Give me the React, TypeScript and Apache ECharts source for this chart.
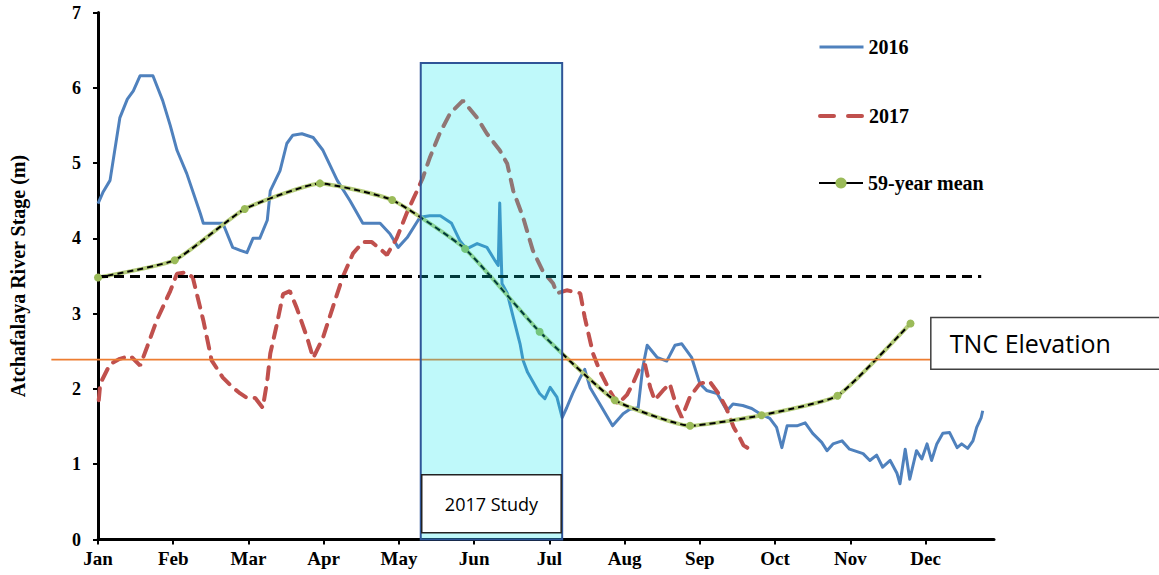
import { useEffect, useRef } from "react";
import * as echarts from "echarts";

// Month axis: x values are fractional months from 1 January (0 = Jan 1).
const MONTHS = ["Jan", "Feb", "Mar", "Apr", "May", "Jun", "Jul", "Aug", "Sep", "Oct", "Nov", "Dec"];
const Y_TICKS = [0, 1, 2, 3, 4, 5, 6, 7];

// Atchafalaya River stage (m), 2016
const STAGE_2016: [number, number][] = [
  [0, 4.46], [0.07, 4.62], [0.16, 4.77], [0.29, 5.6], [0.39, 5.85], [0.47, 5.96], [0.56, 6.16],
  [0.73, 6.16], [0.86, 5.83], [0.96, 5.5], [1.05, 5.17], [1.18, 4.86], [1.36, 4.33], [1.4, 4.2],
  [1.53, 4.2], [1.66, 4.2], [1.79, 3.88], [1.89, 3.84], [1.98, 3.81], [2.06, 4.0], [2.15, 4.0],
  [2.25, 4.24], [2.29, 4.63], [2.42, 4.9], [2.51, 5.26], [2.59, 5.37], [2.71, 5.39], [2.86, 5.34],
  [2.99, 5.17], [3.18, 4.77], [3.35, 4.5], [3.52, 4.2], [3.75, 4.2], [3.88, 4.06], [3.99, 3.88],
  [4.11, 4.01], [4.28, 4.28], [4.41, 4.3], [4.55, 4.3], [4.7, 4.2], [4.81, 3.97], [4.9, 3.86],
  [5.04, 3.93], [5.17, 3.88], [5.28, 3.7], [5.32, 3.64], [5.34, 4.47], [5.37, 3.4], [5.44, 3.27],
  [5.52, 2.95], [5.61, 2.6], [5.65, 2.38], [5.71, 2.22], [5.87, 1.94], [5.94, 1.87], [6.01, 2.02],
  [6.1, 1.89], [6.17, 1.62], [6.23, 1.75], [6.31, 1.94], [6.41, 2.15], [6.47, 2.26], [6.54, 2.02],
  [6.67, 1.8], [6.84, 1.51], [6.98, 1.67], [7.07, 1.73], [7.18, 1.75], [7.24, 2.28], [7.3, 2.58],
  [7.43, 2.42], [7.56, 2.37], [7.67, 2.58], [7.76, 2.6], [7.89, 2.42], [8.0, 2.07], [8.09, 1.98],
  [8.23, 1.94], [8.36, 1.71], [8.44, 1.8], [8.57, 1.78], [8.69, 1.74], [8.8, 1.67], [8.93, 1.61],
  [9.02, 1.49], [9.09, 1.22], [9.16, 1.51], [9.29, 1.51], [9.4, 1.55], [9.5, 1.41], [9.62, 1.29],
  [9.69, 1.18], [9.77, 1.27], [9.89, 1.31], [9.99, 1.2], [10.17, 1.14], [10.26, 1.05], [10.35, 1.12],
  [10.43, 0.96], [10.53, 1.05], [10.62, 0.88], [10.66, 0.74], [10.73, 1.2], [10.79, 0.8],
  [10.88, 1.18], [10.95, 1.07], [11.02, 1.27], [11.08, 1.05], [11.15, 1.27], [11.23, 1.41],
  [11.32, 1.42], [11.42, 1.22], [11.48, 1.27], [11.56, 1.21], [11.63, 1.31], [11.68, 1.49],
  [11.74, 1.62], [11.76, 1.71],
];

// Atchafalaya River stage (m), 2017
const STAGE_2017: [number, number][] = [
  [0.01, 1.85], [0.03, 2.07], [0.16, 2.33], [0.29, 2.4], [0.43, 2.44], [0.56, 2.31], [0.65, 2.55],
  [0.78, 2.91], [0.96, 3.3], [1.05, 3.53], [1.17, 3.55], [1.26, 3.48], [1.4, 2.91], [1.51, 2.38],
  [1.66, 2.15], [1.79, 2.02], [1.89, 1.94], [1.98, 1.88], [2.09, 1.88], [2.19, 1.75], [2.25, 2.11],
  [2.29, 2.47], [2.38, 2.87], [2.46, 3.26], [2.55, 3.3], [2.64, 3.08], [2.78, 2.68], [2.86, 2.41],
  [2.99, 2.68], [3.12, 3.08], [3.25, 3.48], [3.39, 3.8], [3.52, 3.95], [3.64, 3.95], [3.75, 3.86],
  [3.84, 3.78], [3.97, 4.0], [4.11, 4.35], [4.24, 4.63], [4.32, 4.81], [4.41, 5.07], [4.54, 5.39],
  [4.68, 5.66], [4.85, 5.83], [5.04, 5.6], [5.17, 5.39], [5.34, 5.17], [5.44, 4.99], [5.52, 4.63],
  [5.65, 4.28], [5.78, 3.84], [5.91, 3.57], [6.05, 3.4], [6.1, 3.27], [6.23, 3.31], [6.41, 3.27],
  [6.47, 2.95], [6.58, 2.47], [6.67, 2.24], [6.8, 1.98], [6.91, 1.8], [7.03, 1.92], [7.11, 2.07],
  [7.2, 2.28], [7.27, 2.33], [7.34, 2.02], [7.4, 1.85], [7.51, 1.98], [7.6, 2.07], [7.68, 1.8],
  [7.76, 1.62], [7.87, 1.9], [8.0, 2.07], [8.13, 2.1], [8.24, 1.95], [8.35, 1.75], [8.45, 1.49],
  [8.53, 1.35], [8.58, 1.25], [8.66, 1.2],
];

// 59-year mean monthly stage (m)
const MEAN_59YR: [number, number][] = [
  [0, 3.48], [1.02, 3.71], [1.95, 4.39], [2.95, 4.73], [3.91, 4.51], [4.88, 3.86],
  [5.87, 2.76], [6.87, 1.85], [7.87, 1.51], [8.82, 1.65], [9.83, 1.91], [10.8, 2.87],
];

// Reference levels and annotation extents (axis units)
const FLOOD_STAGE = 3.5;
const FLOOD_STAGE_END = 11.74;
const TNC_ELEVATION = 2.39;
const TNC_LINE_START = -0.62;
const TNC_BOX_X = 11.07;
const TNC_BOX_Y: [number, number] = [2.95, 2.26];
const STUDY_X: [number, number] = [4.29, 6.17];
const STUDY_TOP = 6.33;
const STUDY_LABEL_Y: [number, number] = [0.86, 0.09];

const SERIF = "'Liberation Serif', 'Times New Roman', serif";
const SANS = "'Open Sans', 'Noto Sans', sans-serif";

export default function App() {
  const ref = useRef<HTMLDivElement>(null);

  useEffect(() => {
    const chart = echarts.init(ref.current!, null, { renderer: "svg" });
    const legendText = { fontFamily: SERIF, fontWeight: "bold", fontSize: 20, color: "#000" };
    const legendBase = {
      orient: "vertical",
      left: 818,
      padding: 0,
      itemWidth: 44,
      itemHeight: 14,
      textStyle: legendText,
      selectedMode: false,
    };

    chart.setOption({
      animation: false,
      backgroundColor: "#fff",
      grid: { left: 98, right: 165, top: 12.5, bottom: 35.5, outerBoundsMode: "none" },
      legend: [
        {
          ...legendBase,
          top: 37,
          data: [{ name: "2016", itemStyle: { opacity: 0 }, lineStyle: { width: 3 } }],
        },
        {
          ...legendBase,
          top: 106,
          data: [{ name: "2017", itemStyle: { opacity: 0 }, lineStyle: { width: 4, type: [14, 14] } }],
        },
        {
          ...legendBase,
          top: 173,
          data: [{ name: "59-year mean", lineStyle: { type: "solid", width: 2, color: "#000" } }],
        },
      ],
      xAxis: {
        type: "value",
        min: 0,
        max: 11.91,
        interval: 1,
        splitLine: { show: false },
        axisLine: { lineStyle: { color: "#000", width: 3 } },
        axisTick: {
          length: 5,
          lineStyle: { color: "#000", width: 2 },
          customValues: MONTHS.map((_, i) => i),
        },
        axisLabel: {
          customValues: MONTHS.map((_, i) => i),
          formatter: (v: number) => MONTHS[Math.round(v)] ?? "",
          fontFamily: SERIF,
          fontWeight: "bold",
          fontSize: 19,
          color: "#000",
          margin: 9,
        },
      },
      yAxis: {
        type: "value",
        min: 0,
        max: 7,
        interval: 1,
        name: "Atchafalaya River Stage (m)",
        nameLocation: "middle",
        nameGap: 70,
        nameTextStyle: { fontFamily: SERIF, fontWeight: "bold", fontSize: 20, color: "#000" },
        splitLine: { show: false },
        axisLine: { show: true, lineStyle: { color: "#000", width: 3 } },
        axisTick: { show: true, length: 5, lineStyle: { color: "#000", width: 2 }, customValues: Y_TICKS },
        axisLabel: {
          customValues: Y_TICKS,
          fontFamily: SERIF,
          fontWeight: "bold",
          fontSize: 18,
          color: "#000",
          margin: 17,
        },
      },
      series: [
        {
          name: "2016",
          type: "line",
          data: STAGE_2016,
          symbol: "none",
          z: 3,
          lineStyle: { color: "#4F81BD", width: 3, join: "round" },
          itemStyle: { color: "#4F81BD" },
          markLine: {
            silent: true,
            symbol: "none",
            label: { show: false },
            lineStyle: { color: "#000", width: 3, type: [10, 6] },
            data: [[{ coord: [0, FLOOD_STAGE] }, { coord: [FLOOD_STAGE_END, FLOOD_STAGE] }]],
          },
        },
        {
          name: "2017",
          type: "line",
          data: STAGE_2017,
          symbol: "none",
          z: 3,
          lineStyle: { color: "#C0504D", width: 4, type: [12, 9], cap: "round" },
          itemStyle: { color: "#C0504D" },
        },
        {
          name: "meanUnderlay",
          type: "line",
          data: MEAN_59YR,
          symbol: "none",
          smooth: 0.15,
          z: 4,
          lineStyle: { color: "#B5CC7A", width: 4 },
        },
        {
          name: "59-year mean",
          type: "line",
          data: MEAN_59YR,
          smooth: 0.15,
          symbol: "circle",
          symbolSize: 8,
          showAllSymbol: true,
          z: 5,
          lineStyle: { color: "#000", width: 2, type: [6, 4] },
          itemStyle: { color: "#9BBB59" },
        },
      ],
    });

    const px = (x: number, y: number) => chart.convertToPixel({ gridIndex: 0 }, [x, y]) as number[];

    const tncA = px(TNC_LINE_START, TNC_ELEVATION);
    const tncB = px(TNC_BOX_X, TNC_ELEVATION);
    const tncTop = px(TNC_BOX_X, TNC_BOX_Y[0]);
    const tncBot = px(TNC_BOX_X, TNC_BOX_Y[1]);
    const studyTL = px(STUDY_X[0], STUDY_TOP);
    const studyBR = px(STUDY_X[1], 0);
    const labTL = px(STUDY_X[0], STUDY_LABEL_Y[0]);
    const labBR = px(STUDY_X[1], STUDY_LABEL_Y[1]);

    chart.setOption({
      graphic: [
        {
          type: "line",
          z: 6,
          shape: { x1: tncA[0], y1: tncA[1], x2: tncB[0], y2: tncB[1] },
          style: { stroke: "#ED7D31", lineWidth: 1.8 },
        },
        {
          type: "rect",
          z: 10,
          shape: { x: studyTL[0], y: studyTL[1], width: studyBR[0] - studyTL[0], height: studyBR[1] - studyTL[1] },
          style: { fill: "rgba(0,230,235,0.25)", stroke: "#2F5597", lineWidth: 2 },
        },
        {
          type: "rect",
          z: 11,
          shape: { x: labTL[0] + 1, y: labTL[1], width: labBR[0] - labTL[0] - 2, height: labBR[1] - labTL[1] },
          style: { fill: "#fff", stroke: "#222", lineWidth: 1.5 },
        },
        {
          type: "text",
          z: 12,
          x: (labTL[0] + labBR[0]) / 2,
          y: (labTL[1] + labBR[1]) / 2,
          style: {
            text: "2017 Study",
            fontFamily: SANS,
            fontSize: 18,
            fill: "#000",
            align: "center",
            verticalAlign: "middle",
          },
        },
        {
          type: "rect",
          z: 11,
          shape: { x: tncTop[0], y: tncTop[1], width: 1165 - tncTop[0], height: tncBot[1] - tncTop[1] },
          style: { fill: "#fff", stroke: "#404040", lineWidth: 1.5 },
        },
        {
          type: "text",
          z: 12,
          x: tncTop[0] + 19,
          y: (tncTop[1] + tncBot[1]) / 2,
          style: {
            text: "TNC Elevation",
            fontFamily: SANS,
            fontSize: 25,
            fill: "#000",
            align: "left",
            verticalAlign: "middle",
          },
        },
      ],
    });

    return () => chart.dispose();
  }, []);

  return (
    <div
      ref={ref}
      style={{ position: "fixed", left: 0, top: 0, width: 1159, height: 575, background: "#fff" }}
    />
  );
}
